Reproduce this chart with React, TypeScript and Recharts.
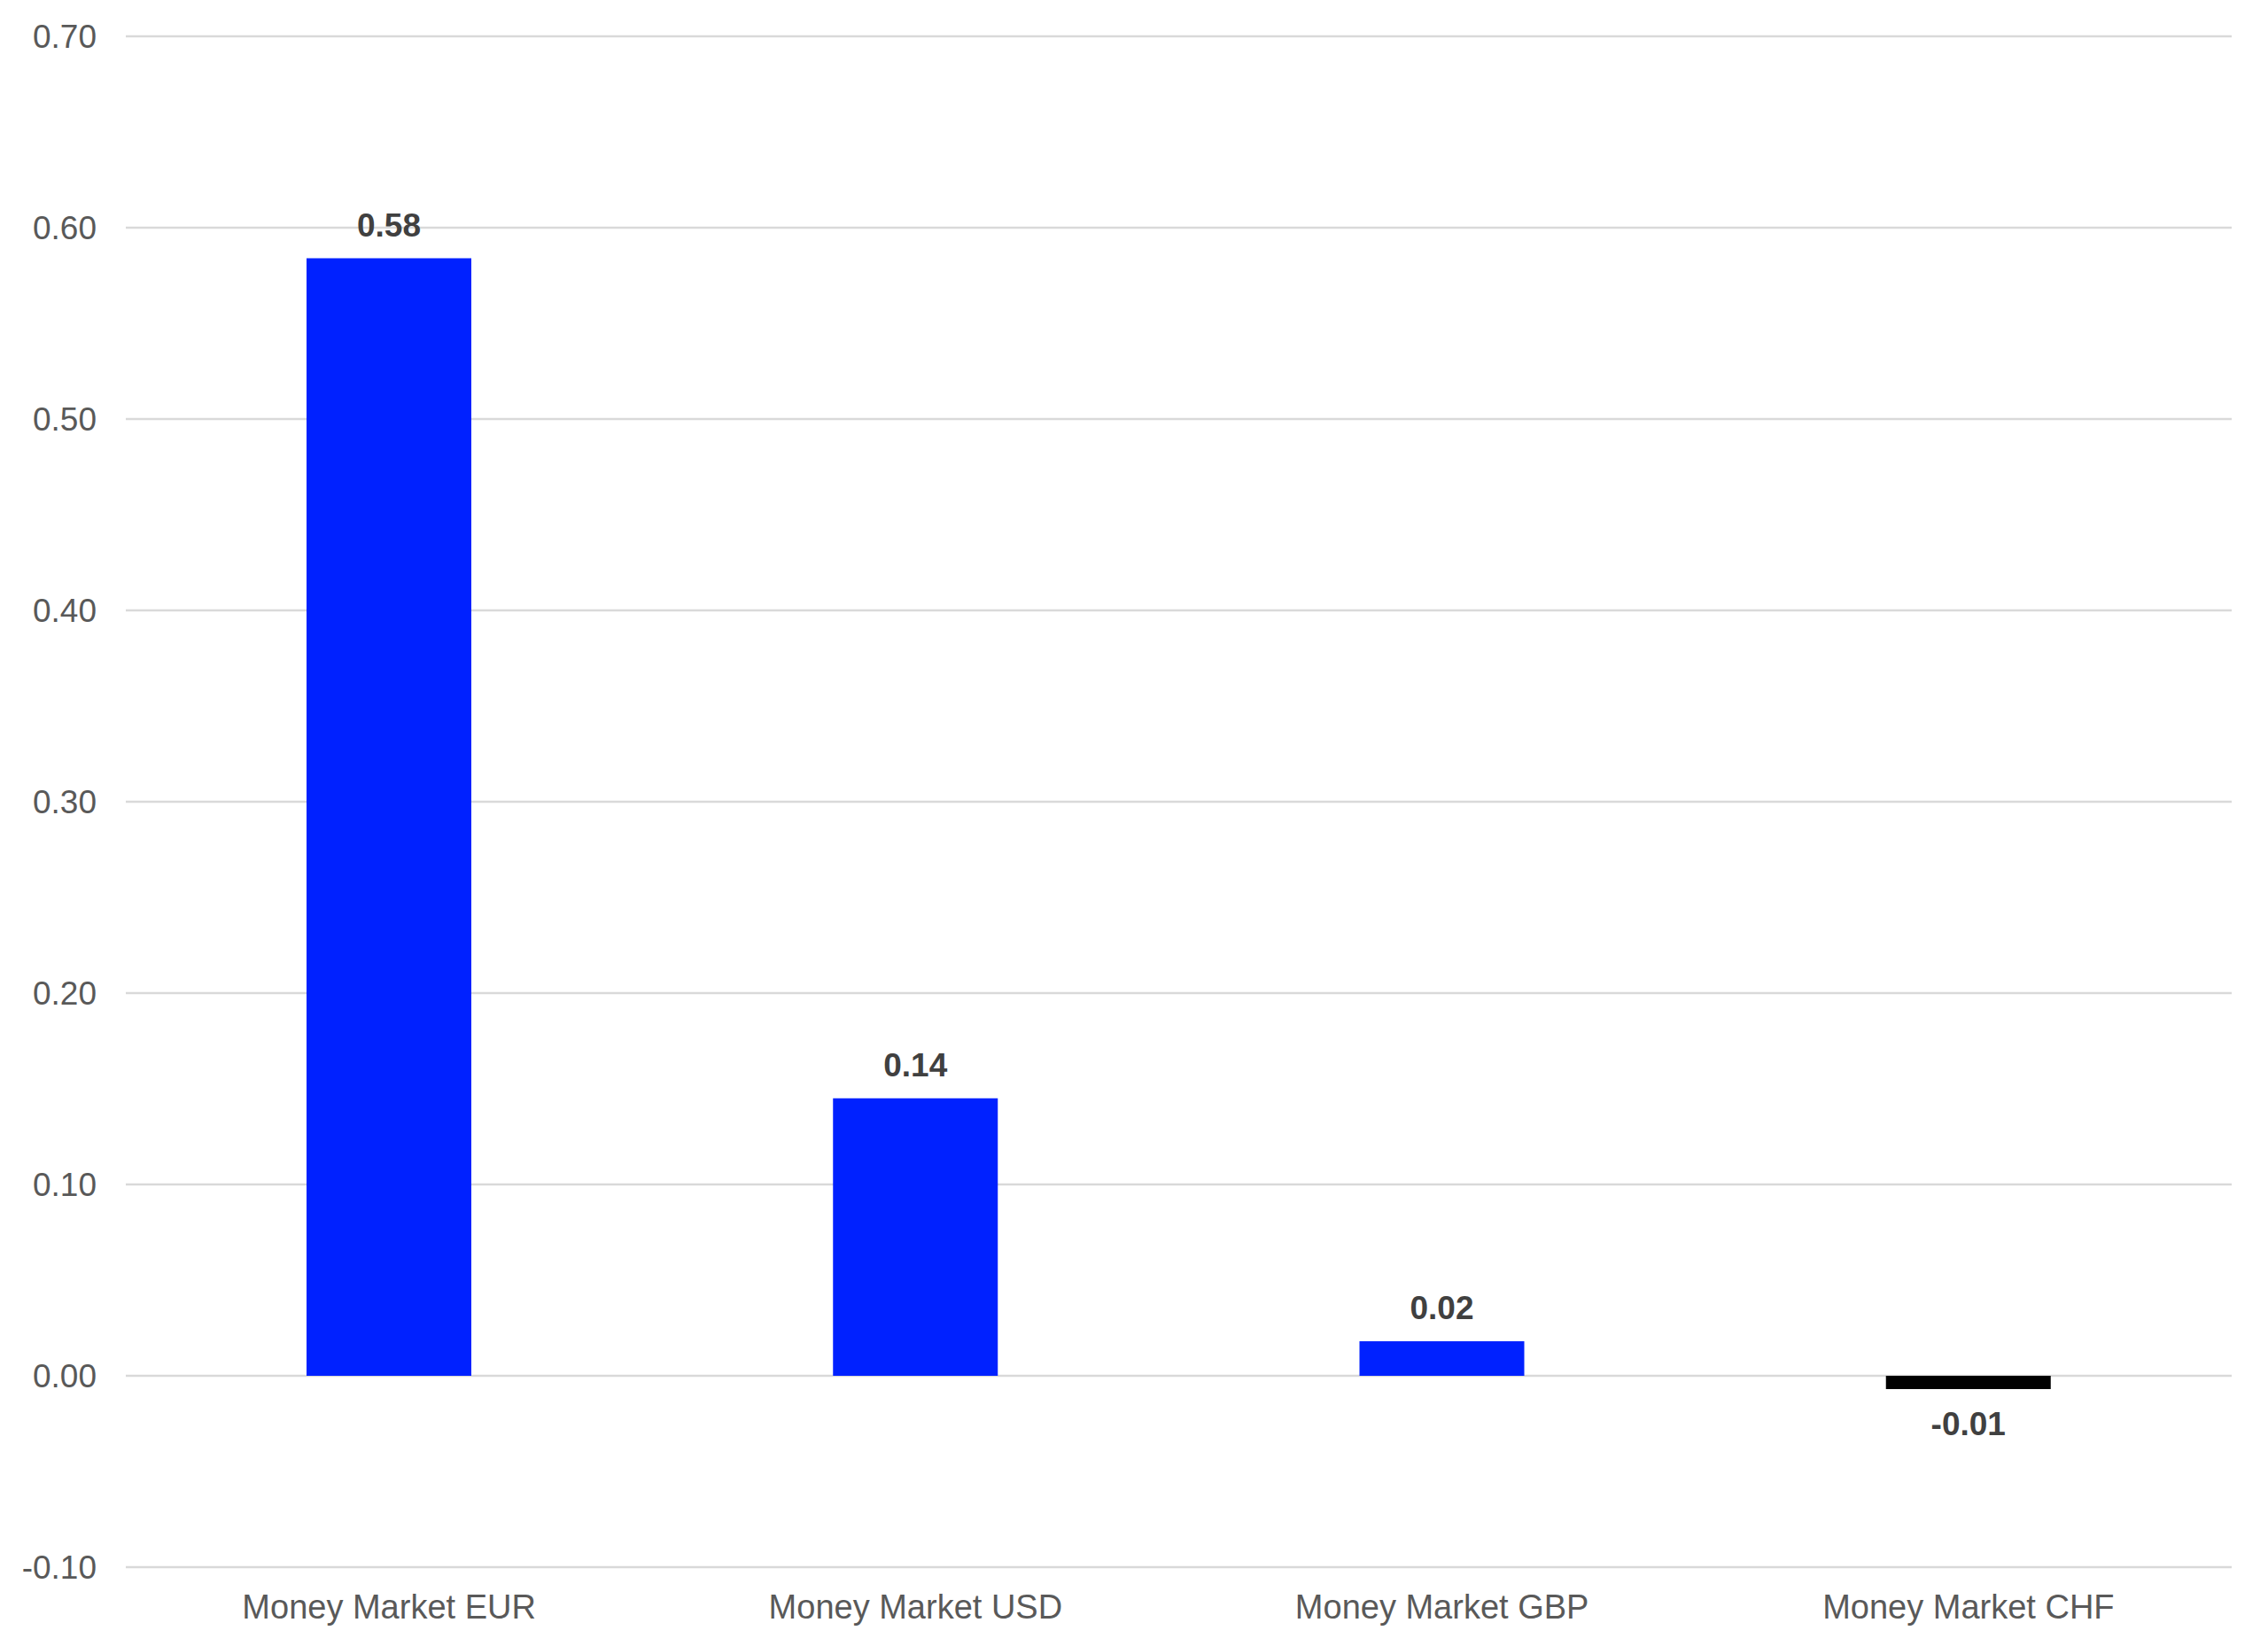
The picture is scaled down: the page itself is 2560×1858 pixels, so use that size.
import { Bar, BarChart, CartesianGrid, Cell, LabelList, XAxis, YAxis } from "recharts"

const categories = ["Money Market EUR", "Money Market USD", "Money Market GBP", "Money Market CHF"]
const values = [0.584, 0.145, 0.018, -0.007]
const yTicks = [-0.1, 0, 0.1, 0.2, 0.3, 0.4, 0.5, 0.6, 0.7]

const chartData = categories.map((name, i) => ({ name, value: values[i] }))

const FONT = "'Liberation Sans', Arial, sans-serif"

function ValueLabel(props: any) {
    const vb = props.viewBox || props
    const x = Number(vb.x)
    const y = Number(vb.y)
    const w = Number(vb.width)
    const h = Number(vb.height)
    const value = Number(props.value)
    const top = Math.min(y, y + h)
    const bottom = Math.max(y, y + h)
    const cx = x + w / 2
    const ty = value >= 0 ? top - 25 : bottom + 52
    return (
        <text
            x={cx}
            y={ty}
            textAnchor="middle"
            fill="#404040"
            fontSize={37}
            fontWeight="bold"
            fontFamily={FONT}
        >
            {value.toFixed(2)}
        </text>
    )
}

export default function App() {
    return (
        <div style={{ position: "absolute", left: 0, top: 0, background: "#fff" }}>
            <BarChart
                width={2560}
                height={1858}
                data={chartData}
                margin={{ top: 41, right: 41, left: 0, bottom: 0 }}
            >
                <CartesianGrid vertical={false} stroke="#d9d9d9" strokeWidth={2.5} />
                <XAxis
                    dataKey="name"
                    height={89}
                    axisLine={false}
                    tickLine={false}
                    tickSize={0}
                    tickMargin={31}
                    tick={{ fill: "#595959", fontSize: 38, fontFamily: FONT }}
                />
                <YAxis
                    width={142}
                    domain={[-0.1, 0.7]}
                    ticks={yTicks}
                    axisLine={false}
                    tickLine={false}
                    tickSize={0}
                    tickMargin={33}
                    tickFormatter={(v: number) => v.toFixed(2)}
                    tick={{ fill: "#595959", fontSize: 37, fontFamily: FONT }}
                />
                <Bar dataKey="value" barSize={186} isAnimationActive={false}>
                    {chartData.map((d) => (
                        <Cell key={d.name} fill={d.value < 0 ? "#000000" : "#0021ff"} />
                    ))}
                    <LabelList dataKey="value" content={ValueLabel} />
                </Bar>
            </BarChart>
        </div>
    )
}
